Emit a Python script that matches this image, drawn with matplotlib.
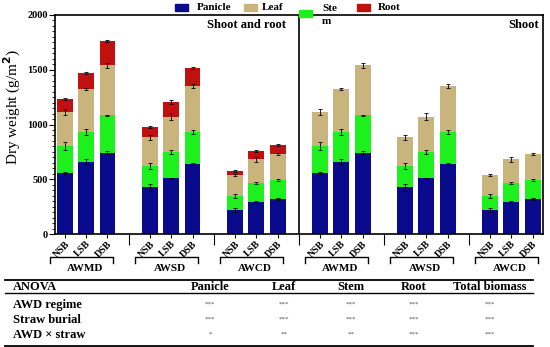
import matplotlib.pyplot as plt
from matplotlib.patches import Rectangle
from matplotlib.lines import Line2D
import matplotlib.transforms as mtransforms
import numpy as np

plt.rcParams['font.family'] = ['Liberation Serif', 'DejaVu Serif']
plt.rcParams['font.weight'] = 'bold'

# bars in order AWMD NSB/LSB/DSB, AWSD ..., AWCD ...
regimes = ['AWMD', 'AWSD', 'AWCD']
treatments = ['NSB', 'LSB', 'DSB']
panicle = [557, 660, 742, 426, 508, 642, 219, 295, 317]
stem = [247, 271, 342, 195, 241, 289, 128, 168, 176]
leaf = [310, 390, 456, 262, 322, 421, 192, 219, 237]
root = [119, 146, 225, 94, 134, 164, 39, 79, 80]
panicle_err = [10, 25, 15, 35, 6, 8, 15, 10, 8]
stem_err = [40, 30, 6, 25, 20, 20, 20, 10, 8]
leaf_err = [25, 10, 20, 20, 30, 15, 10, 25, 8]
root_err = [8, 10, 10, 10, 20, 5, 10, 8, 8]

anova_rows = ['AWD regime', 'Straw burial', 'AWD \u00d7 straw']
anova_cols = ['Panicle', 'Leaf', 'Stem', 'Root', 'Total biomass']
anova_sig = [['***', '***', '***', '***', '***'],
             ['***', '***', '***', '***', '***'],
             ['*', '**', '**', '***', '***']]

c_pan = '#0a0a8c'
c_leaf = '#c8b47c'
c_stem = '#1ef01e'
c_root = '#c01010'

W, H = 550, 347
fig = plt.figure(figsize=(5.5, 3.47), dpi=100)


def fx(x):
    return x / W


def fy(y):
    return 1 - y / H


ax = fig.add_axes([fx(55), fy(234), 488 / W, 219 / H])

base_pos = np.array([0, 1, 2, 4, 5, 6, 8, 9, 10])
panicle = np.array(panicle)
stem = np.array(stem)
leaf = np.array(leaf)
root = np.array(root)

for panel, offset in enumerate([0, 12]):
    x = base_pos + offset
    bw = 0.75
    ax.bar(x, panicle, bw, color=c_pan)
    ax.bar(x, stem, bw, bottom=panicle, color=c_stem)
    ax.bar(x, leaf, bw, bottom=panicle + stem, color=c_leaf)
    ek = dict(fmt='none', ecolor='black', elinewidth=0.6, capsize=1.6, capthick=0.6)
    ax.errorbar(x, panicle, yerr=panicle_err, **ek)
    ax.errorbar(x, panicle + stem, yerr=stem_err, **ek)
    ax.errorbar(x, panicle + stem + leaf, yerr=leaf_err, **ek)
    if panel == 0:
        ax.bar(x, root, bw, bottom=panicle + stem + leaf, color=c_root)
        ax.errorbar(x, panicle + stem + leaf + root, yerr=root_err, **ek)

ax.axvline(11, color='black', lw=1.2)
ax.set_xlim(-0.47, 22.49)
ax.set_ylim(0, 2000)

all_pos = np.concatenate([base_pos, base_pos + 12])
ax.set_xticks(all_pos)
ax.set_xticklabels(treatments * 6, rotation=45, ha='right', va='top',
                   rotation_mode='anchor', fontsize=7)
ax.set_xticks([3, 7, 11, 15, 19], minor=True)
ax.tick_params(axis='x', which='major', length=3, width=0.8, pad=1)
ax.tick_params(axis='x', which='minor', length=8, width=0.8)

ax.set_yticks([0, 500, 1000, 1500, 2000])
ax.set_yticks(np.arange(0, 2001, 50), minor=True)
ax.tick_params(axis='y', which='major', length=4, width=0.8, labelsize=7.5, pad=1)
ax.tick_params(axis='y', which='minor', length=2, width=0.6)
ax.set_ylabel('Dry weight (g/m$^\\mathbf{2}$)', fontsize=11)
ax.yaxis.set_label_coords(-0.066, 0.58)
for s in ax.spines.values():
    s.set_linewidth(1.2)

ax.text(11 - 0.6, 1960, 'Shoot and root', ha='right', va='top', fontsize=9)
ax.text(22.3, 1960, 'Shoot', ha='right', va='top', fontsize=9)

# group brackets under the x labels
trans = mtransforms.blended_transform_factory(ax.transData, ax.transAxes)
for g, start in enumerate([0, 4, 8, 12, 16, 20]):
    x0, x1 = start - 0.7, start + 2.25
    ax.add_line(Line2D([x0, x0, x1, x1], [-0.132, -0.105, -0.105, -0.132],
                       transform=trans, color='black', lw=1.0, clip_on=False))
    ax.text(start + 0.95, -0.138, regimes[g % 3], transform=trans,
            ha='center', va='top', fontsize=8)

# legend drawn by hand, as in the original
leg = [(175, 4, c_pan, 'Panicle', 197, 8),
       (244, 4, c_leaf, 'Leaf', 262, 8),
       (299, 10, c_stem, 'Ste\nm', 322, 15),
       (357, 4, c_root, 'Root', 378, 8)]
for px, py, col, lab, tx, ty in leg:
    fig.add_artist(Rectangle((fx(px), fy(py + 7)), 13 / W, 7 / H,
                             color=col, transform=fig.transFigure))
    fig.text(fx(tx), fy(ty), lab, ha='left', va='center', fontsize=8,
             linespacing=1.5)

# ANOVA table
for y, lw in [(280, 1.3), (293, 1.0), (346, 1.3)]:
    fig.add_artist(Line2D([fx(5), fx(533)], [fy(y), fy(y)], color='black',
                          lw=lw, transform=fig.transFigure))
col_x = [210, 284, 351, 414, 490]
fig.text(fx(13), fy(287), 'ANOVA', ha='left', va='center', fontsize=9)
for cx, name in zip(col_x, anova_cols):
    fig.text(fx(cx), fy(287), name, ha='center', va='center', fontsize=9)
for r, (ry, name) in enumerate(zip([305, 320, 335], anova_rows)):
    fig.text(fx(13), fy(ry), name, ha='left', va='center', fontsize=9)
    for cx, sig in zip(col_x, anova_sig[r]):
        fig.text(fx(cx), fy(ry - 1), sig, ha='center', va='center',
                 fontsize=5, color='#555555', fontweight='normal')

fig.savefig('out.png', dpi=100)
